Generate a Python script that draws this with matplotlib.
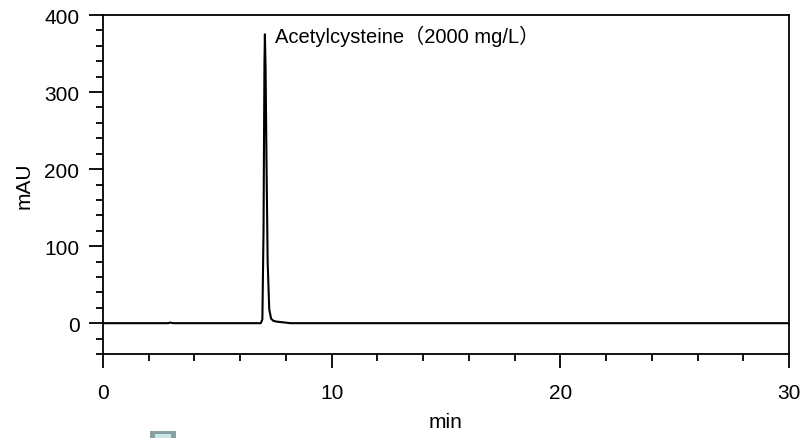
import matplotlib
matplotlib.use("Agg")
import matplotlib.pyplot as plt
from matplotlib.ticker import MultipleLocator
from matplotlib.patches import Rectangle

plt.rcParams["font.family"] = ["Liberation Sans", "Noto Sans CJK SC", "DejaVu Sans"]

# chromatogram points (min, mAU)
time_min = [0, 2.85, 2.95, 3.05, 6.9, 6.97, 7.02, 7.06, 7.08, 7.11, 7.15,
            7.2, 7.27, 7.35, 7.45, 7.6, 7.9, 8.2, 30]
signal_mau = [0, 0, 0.8, 0, 0, 5, 120, 335, 375, 330, 210,
              80, 18, 6, 3, 2, 1, 0, 0]

peak_label = "Acetylcysteine（2000 mg/L）"
peak_time = 7.08
peak_height = 375

fig = plt.figure(figsize=(8.07, 4.39), dpi=100)
ax = fig.add_axes([103 / 807, 84 / 439, 686 / 807, 339 / 439])

ax.plot(time_min, signal_mau, color="black", lw=1.5)

ax.set_xlim(0, 30)
ax.set_ylim(-40, 400)
ax.xaxis.set_major_locator(MultipleLocator(10))
ax.xaxis.set_minor_locator(MultipleLocator(2))
ax.yaxis.set_major_locator(MultipleLocator(100))
ax.yaxis.set_minor_locator(MultipleLocator(20))

for s in ax.spines.values():
    s.set_linewidth(1.3)
ax.tick_params(which="major", direction="out", length=10, width=1.3,
               labelsize=15)
ax.tick_params(which="minor", direction="out", length=5, width=1.3)
ax.tick_params(axis="x", which="major", pad=11)
ax.tick_params(axis="y", which="major", pad=7)

ax.set_xlabel("min", fontsize=15, labelpad=7)
ax.set_ylabel("mAU", fontsize=15, labelpad=8)

ax.annotate(peak_label, xy=(peak_time, peak_height), xytext=(7, -1),
            textcoords="offset points", ha="left", va="center", fontsize=14.5)

# small grey icon at the bottom edge of the screenshot
fig.patches.append(Rectangle((150 / 807, 0), 26 / 807, 7 / 439,
                             transform=fig.transFigure, facecolor="#8aa0a0",
                             edgecolor="none"))
fig.patches.append(Rectangle((155 / 807, 0), 16 / 807, 4 / 439,
                             transform=fig.transFigure, facecolor="#c8e6e6",
                             edgecolor="none"))

fig.savefig("out.png", dpi=100)
